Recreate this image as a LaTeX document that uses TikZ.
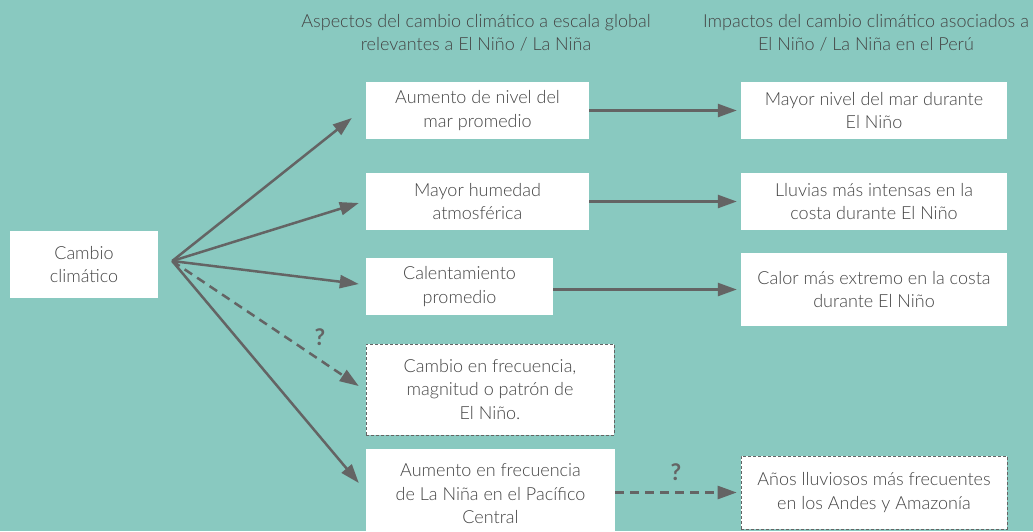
\documentclass[tikz,border=0pt]{standalone}
\usepackage{fontspec}
\setmainfont{Lato Light}
\newfontfamily\heavyfont{Lato}
\usetikzlibrary{arrows.meta,positioning,calc}
\definecolor{bg}{RGB}{137,201,192}
\definecolor{ink}{RGB}{68,68,68}
\definecolor{lines}{RGB}{100,100,100}

\begin{document}
\begin{tikzpicture}[x=1pt,y=-1pt,>={Triangle[length=19pt,width=13pt]},
  font=\fontsize{18}{23.5}\selectfont,text=ink,
  box/.style={fill=white,align=center,inner xsep=4pt,inner ysep=0pt},
  qbox/.style={box,draw=lines,densely dashed,line width=0.6pt},
  link/.style={->,draw=lines,line width=2.5pt},
  maybe/.style={link,dash pattern=on 9pt off 6pt},
  qmark/.style={font=\heavyfont\bfseries\fontsize{23}{24}\selectfont,text=lines}]
\fill[bg] (0,0) rectangle (1033,531);
\useasboundingbox (0,0) rectangle (1033,531);
\node[align=center] (hglobal) at (476,33) {Aspectos del cambio climático a escala global\\relevantes a El Niño / La Niña};
\node[align=center] (hperu) at (866,33) {Impactos del cambio climático asociados a\\El Niño / La Niña en el Perú};
\node[box,minimum width=148,minimum height=67] (cc) at (84,264.5) {Cambio\\climático};
\coordinate (hub) at ([xshift=14pt,yshift=3.5pt]cc.east);
\node[box,minimum width=223,minimum height=57] (sea) at (477.5,110.5) {Aumento de nivel del\\mar promedio};
\node[box,minimum width=223,minimum height=57] (hum) at (477.5,201.5) {Mayor humedad\\atmosférica};
\node[box,minimum width=187,minimum height=57] (heat) at (459.5,286.5) {Calentamiento\\promedio};
\node[qbox,minimum width=248,minimum height=91] (freq) at (490,389.5) {Cambio en frecuencia,\\magnitud o patrón de\\El Niño.};
\node[box,minimum width=249,minimum height=90] (nina) at (490.5,494) {Aumento en frecuencia\\de La Niña en el Pacífico\\Central};
\node[box,minimum width=266,minimum height=57] (sealvl) at (874,110.5) {Mayor nivel del mar durante\\El Niño};
\node[box,minimum width=266,minimum height=57] (rain) at (874,201.5) {Lluvias más intensas en la\\costa durante El Niño};
\node[box,minimum width=266,minimum height=73] (warm) at (874,289.5) {Calor más extremo en la costa\\durante El Niño};
\node[qbox,minimum width=266,minimum height=73] (wet) at (874,492.5) {Años lluviosos más frecuentes\\en los Andes y Amazonía};
\draw[link] (hub) -- ([xshift=-14pt,yshift=-7.5pt]sea.west);
\draw[link] (hub) -- ([xshift=-7pt,yshift=-1.5pt]hum.west);
\draw[link] (hub) -- ([xshift=-7pt,yshift=2.5pt]heat.west);
\draw[maybe] (hub) -- ([xshift=-7pt,yshift=3.5pt]freq.west);
\draw[link] (hub) -- ([xshift=-7pt,yshift=11pt]nina.west);
\draw[link,shorten >=4pt] (sea.east) -- (sealvl.west);
\draw[link,shorten >=4pt] (hum.east) -- (rain.west);
\draw[link,shorten >=4pt] (heat.east |- warm.west) -- (warm.west);
\draw[maybe,shorten >=4pt] (nina.east |- wet.west) -- (wet.west);
\node[qmark] (q1) at (320,337) {?};
\node[qmark] (q2) at (676,472) {?};
\end{tikzpicture}
\end{document}
